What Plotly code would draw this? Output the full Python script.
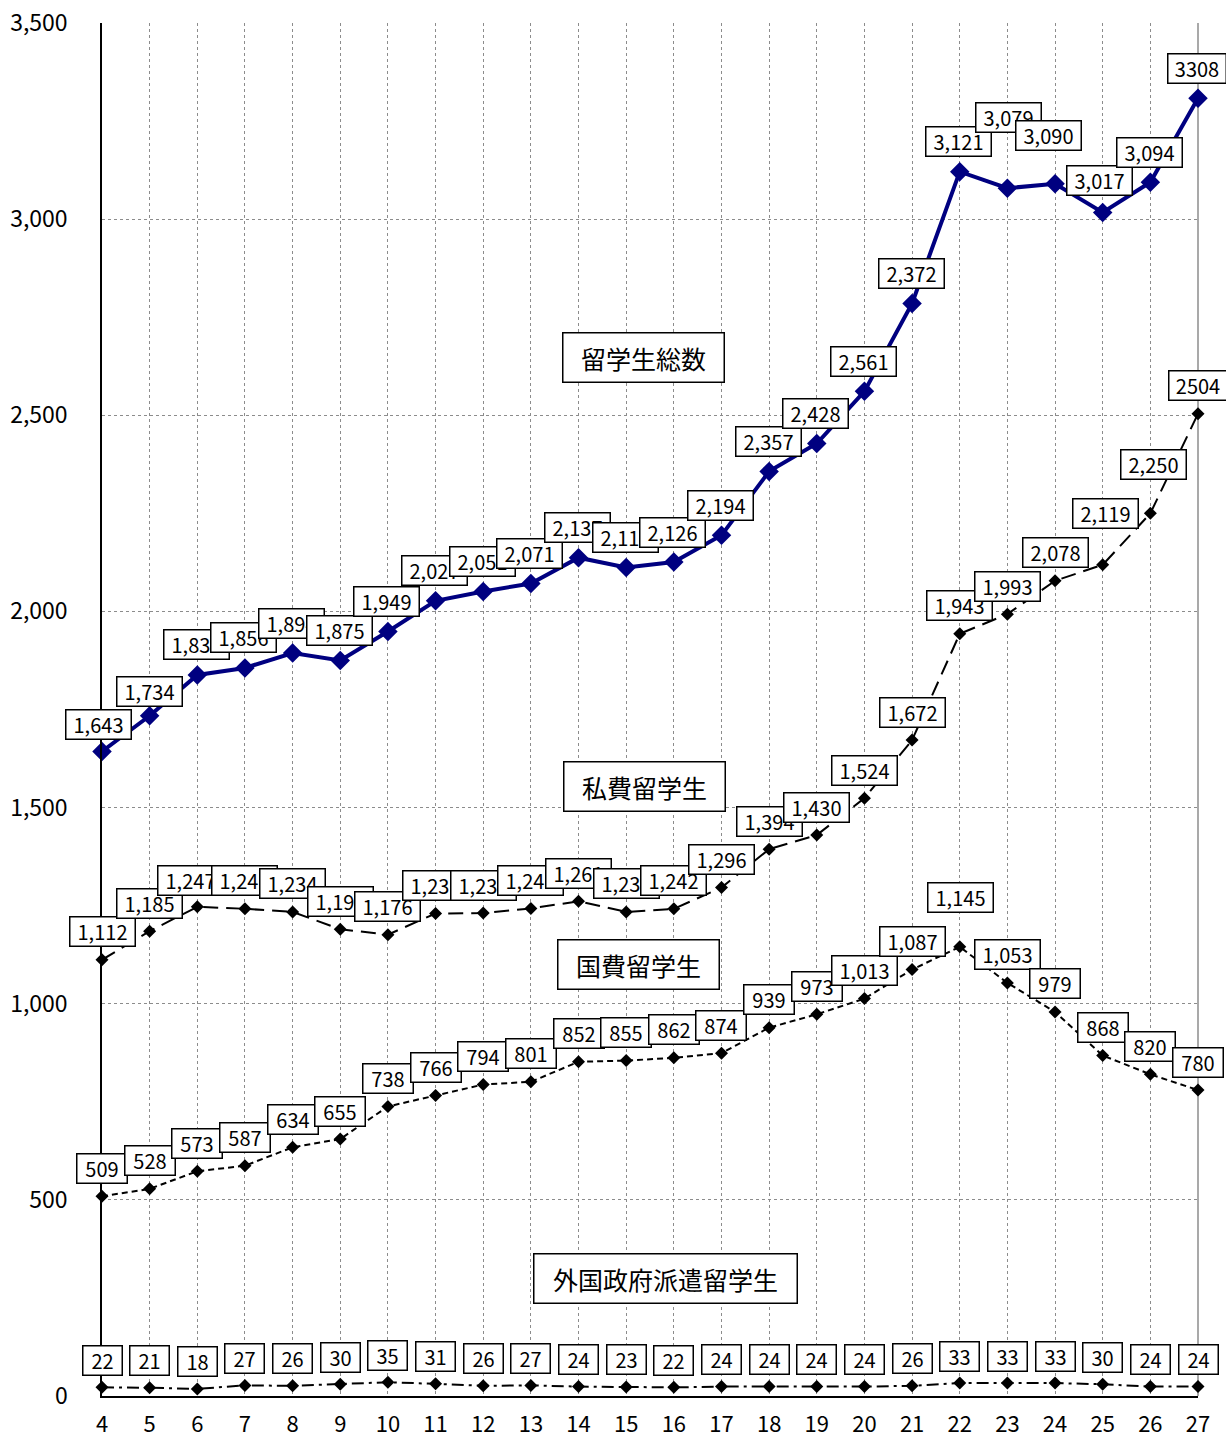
import plotly.graph_objects as go

# ---------------- data ----------------
years = [4, 5, 6, 7, 8, 9, 10, 11, 12, 13, 14, 15, 16, 17, 18, 19, 20, 21, 22, 23, 24, 25, 26, 27]

total = [1643, 1734, 1838, 1856, 1894, 1875, 1949, 2027, 2051, 2071, 2137, 2112,
         2126, 2194, 2357, 2428, 2561, 2785, 3121, 3079, 3090, 3017, 3094, 3308]
private = [1112, 1185, 1247, 1242, 1234, 1190, 1176, 1230, 1231, 1243, 1261, 1234,
           1242, 1296, 1394, 1430, 1524, 1672, 1943, 1993, 2078, 2119, 2250, 2504]
govt = [509, 528, 573, 587, 634, 655, 738, 766, 794, 801, 852, 855,
        862, 874, 939, 973, 1013, 1087, 1145, 1053, 979, 868, 820, 780]
foreign = [22, 21, 18, 27, 26, 30, 35, 31, 26, 27, 24, 23,
           22, 24, 24, 24, 24, 26, 33, 33, 33, 30, 24, 24]

total_labels = ["1,643", "1,734", "1,838", "1,856", "1,894", "1,875", "1,949", "2,027",
                "2,051", "2,071", "2,137", "2,112", "2,126", "2,194", "2,357", "2,428",
                "2,561", "2,372", "3,121", "3,079", "3,090", "3,017", "3,094", "3308"]
private_labels = ["1,112", "1,185", "1,247", "1,242", "1,234", "1,190", "1,176", "1,230",
                  "1,231", "1,243", "1,261", "1,234", "1,242", "1,296", "1,394", "1,430",
                  "1,524", "1,672", "1,943", "1,993", "2,078", "2,119", "2,250", "2504"]
govt_labels = ["509", "528", "573", "587", "634", "655", "738", "766", "794", "801",
               "852", "855", "862", "874", "939", "973", "1,013", "1,087", "1,145",
               "1,053", "979", "868", "820", "780"]
foreign_labels = ["22", "21", "18", "27", "26", "30", "35", "31", "26", "27", "24", "23",
                  "22", "24", "24", "24", "24", "26", "33", "33", "33", "30", "24", "24"]

series_names = ["留学生総数", "私費留学生", "国費留学生", "外国政府派遣留学生"]
y_tick_values = [0, 500, 1000, 1500, 2000, 2500, 3000, 3500]

# ---------------- style ----------------
FONT = "Noto Sans CJK JP"
NAVY = "#000080"

fig = go.Figure()

fig.add_trace(go.Scatter(
    x=years, y=foreign, mode="lines+markers", name=series_names[3],
    line=dict(color="black", width=2, dash="12px,5px,3px,5px"),
    marker=dict(symbol="diamond", size=10, color="black"), cliponaxis=False))
fig.add_trace(go.Scatter(
    x=years, y=govt, mode="lines+markers", name=series_names[2],
    line=dict(color="black", width=2, dash="6px,4px"),
    marker=dict(symbol="diamond", size=10, color="black"), cliponaxis=False))
fig.add_trace(go.Scatter(
    x=years, y=private, mode="lines+markers", name=series_names[1],
    line=dict(color="black", width=2, dash="15px,8px"),
    marker=dict(symbol="diamond", size=10, color="black"), cliponaxis=False))
fig.add_trace(go.Scatter(
    x=years, y=total, mode="lines+markers", name=series_names[0],
    line=dict(color=NAVY, width=4),
    marker=dict(symbol="diamond", size=15, color=NAVY), cliponaxis=False))

# label box widths by text length
WIDTHS = {2: 36, 3: 47, 4: 55, 5: 62}


def add_labels(xs, ys, texts, default, special):
    for xv, yv, t in zip(xs, ys, texts):
        dx, dy = special.get(xv, default)
        fig.add_annotation(
            x=xv, y=yv, xref="x", yref="y", text=t, showarrow=False,
            xshift=dx, yshift=-dy, xanchor="center", yanchor="middle",
            font=dict(family=FONT, size=20, color="black"),
            bgcolor="white", bordercolor="black", borderwidth=1.5, borderpad=1,
            width=WIDTHS.get(len(t), 62), height=26, align="center", valign="middle")


add_labels(years, total, total_labels, (-1, -30),
           {4: (-4, -27), 5: (0, -24), 23: (1, -71), 24: (-7, -48), 25: (-3, -32)})
add_labels(years, private, private_labels, (0, -28),
           {6: (-7, -26), 25: (3, -51), 26: (3, -49)})
add_labels(years, govt, govt_labels, (0, -28), {22: (1, -49)})
add_labels(years, foreign, foreign_labels, (0, -27), {})

# series name boxes (paper coordinates)
name_pos = [(643, 358, 158), (644, 787, 158), (638, 964, 158), (665, 1278, 260)]
L, R, T, B = 102, 1198, 23, 1396
for name, (px, py, w) in zip(series_names, name_pos):
    fig.add_annotation(
        x=(px - L) / (R - L), y=(B - py) / (B - T), xref="paper", yref="paper",
        xanchor="center", yanchor="middle",
        text=name, showarrow=False,
        font=dict(family=FONT, size=25, color="black"),
        bgcolor="white", bordercolor="black", borderwidth=1.5, borderpad=1,
        width=w, height=46, align="center", valign="middle")

# right border of plot area
fig.add_shape(type="line", xref="paper", yref="paper", x0=1, x1=1, y0=0, y1=1,
              line=dict(color="#8c8c8c", width=1.5), layer="below")

fig.update_layout(
    width=1226, height=1441,
    margin=dict(l=L, r=1226 - R, t=T, b=1441 - B, autoexpand=False),
    paper_bgcolor="white", plot_bgcolor="white",
    showlegend=False,
    font=dict(family=FONT, color="black"),
    xaxis=dict(range=[4, 27], tickvals=years, ticktext=[str(y) for y in years],
               showgrid=True, gridcolor="#8c8c8c", griddash="dot", gridwidth=1,
               showline=True, linecolor="black", linewidth=2, zeroline=False,
               ticks="", tickfont=dict(family=FONT, size=22, color="black"),
               ticklabelstandoff=8, automargin=False),
    yaxis=dict(range=[0, 3500], tickvals=y_tick_values, tickformat=",",
               showgrid=True, gridcolor="#8c8c8c", griddash="dot", gridwidth=1,
               showline=True, linecolor="black", linewidth=1.5, zeroline=False,
               ticks="", tickfont=dict(family=FONT, size=23, color="black"),
               ticklabelstandoff=28, automargin=False),
)

fig.write_html("out.html",
               config={"displayModeBar": False},
               post_script="document.body.style.margin='0';"
                           "document.body.style.overflow='hidden';")
